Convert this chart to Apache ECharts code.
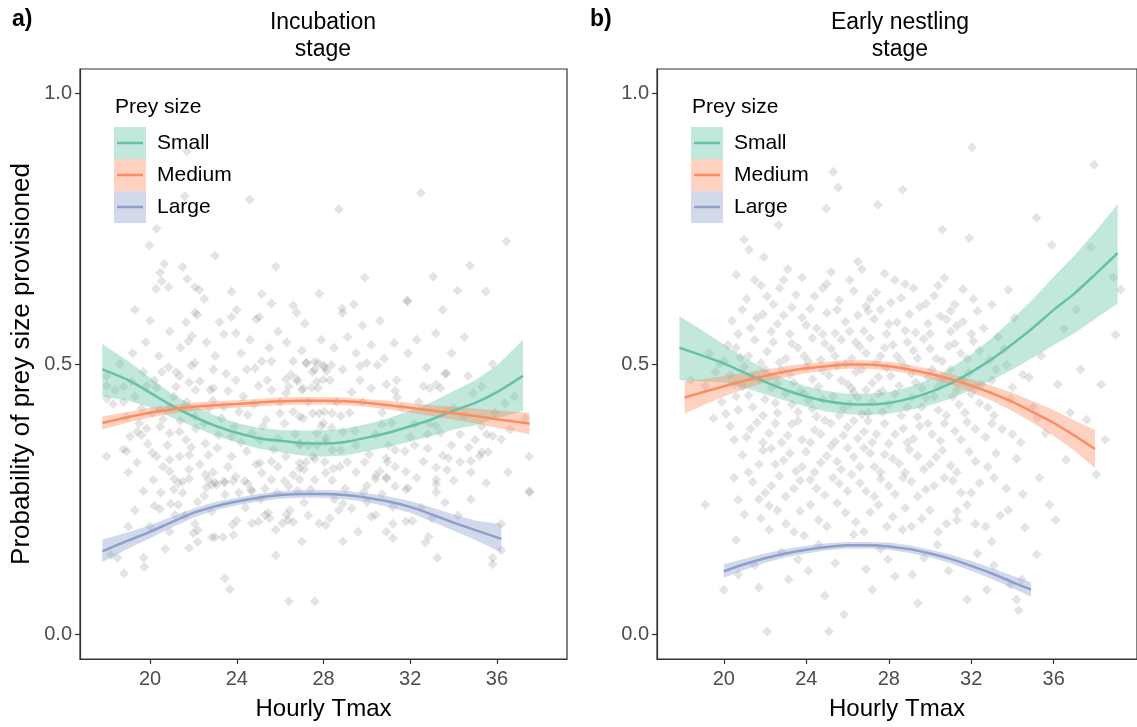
<!DOCTYPE html>
<html><head><meta charset="utf-8">
<script src="https://cdn.jsdelivr.net/npm/echarts@6/dist/echarts.min.js"></script>
<style>html,body{margin:0;padding:0;background:#fff}#c{width:1137px;height:727px}</style>
</head><body><div id="c"></div>
<script>
// ---------- data ----------
const groups = ['Small', 'Medium', 'Large'];
const xTicks = [20, 24, 28, 32, 36];
const yTicks = [0, 0.5, 1.0];

// Panel a) Incubation stage
const aSmallX   = [17.8, 19, 20, 21, 22, 23, 24, 25, 26, 27, 28, 29, 30, 31, 32, 33, 34, 35, 36, 37.2];
const aSmallFit = [0.490, 0.470, 0.447, 0.423, 0.403, 0.386, 0.373, 0.363, 0.358, 0.354, 0.353, 0.356, 0.364, 0.373, 0.385, 0.398, 0.414, 0.428, 0.448, 0.478];
const aSmallLo  = [0.440, 0.432, 0.420, 0.401, 0.384, 0.368, 0.355, 0.344, 0.337, 0.331, 0.329, 0.331, 0.339, 0.347, 0.357, 0.367, 0.379, 0.387, 0.400, 0.413];
const aSmallHi  = [0.537, 0.505, 0.475, 0.445, 0.423, 0.405, 0.391, 0.382, 0.378, 0.377, 0.377, 0.381, 0.389, 0.400, 0.414, 0.430, 0.450, 0.470, 0.497, 0.545];

const aMedX   = [17.8, 19, 20, 21, 22, 23, 24, 25, 26, 27, 28, 29, 30, 31, 32, 33, 34, 35, 36, 37.5];
const aMedFit = [0.391, 0.402, 0.410, 0.416, 0.421, 0.424, 0.426, 0.429, 0.431, 0.432, 0.432, 0.431, 0.428, 0.424, 0.419, 0.414, 0.409, 0.404, 0.398, 0.390];
const aMedLo  = [0.379, 0.392, 0.401, 0.408, 0.413, 0.417, 0.419, 0.422, 0.424, 0.425, 0.425, 0.424, 0.421, 0.416, 0.410, 0.404, 0.397, 0.390, 0.382, 0.370];
const aMedHi  = [0.403, 0.412, 0.419, 0.424, 0.429, 0.431, 0.433, 0.436, 0.438, 0.439, 0.439, 0.438, 0.435, 0.432, 0.428, 0.424, 0.421, 0.418, 0.414, 0.410];

const aLargeX   = [17.8, 19, 20, 21, 22, 23, 24, 25, 26, 27, 28, 29, 30, 31, 32, 33, 34, 35, 36.2];
const aLargeFit = [0.154, 0.174, 0.190, 0.208, 0.225, 0.237, 0.246, 0.253, 0.258, 0.260, 0.260, 0.258, 0.253, 0.246, 0.236, 0.222, 0.207, 0.193, 0.177];
const aLargeLo  = [0.134, 0.159, 0.178, 0.198, 0.216, 0.230, 0.239, 0.246, 0.251, 0.253, 0.253, 0.250, 0.245, 0.236, 0.225, 0.209, 0.192, 0.175, 0.152];
const aLargeHi  = [0.176, 0.189, 0.202, 0.218, 0.233, 0.245, 0.253, 0.260, 0.265, 0.267, 0.267, 0.266, 0.261, 0.255, 0.247, 0.235, 0.222, 0.211, 0.204];

// Panel b) Early nestling stage
const bSmallX   = [17.85, 19, 20, 21, 22, 23, 24, 25, 26, 27, 28, 29, 30, 31, 32, 33, 34, 35, 36, 37, 38, 39.1];
const bSmallFit = [0.530, 0.515, 0.501, 0.484, 0.467, 0.452, 0.440, 0.431, 0.426, 0.425, 0.428, 0.436, 0.448, 0.464, 0.485, 0.509, 0.537, 0.567, 0.600, 0.630, 0.665, 0.705];
const bSmallLo  = [0.470, 0.468, 0.466, 0.456, 0.444, 0.432, 0.421, 0.412, 0.407, 0.406, 0.408, 0.415, 0.424, 0.436, 0.452, 0.470, 0.490, 0.512, 0.535, 0.557, 0.583, 0.612];
const bSmallHi  = [0.588, 0.561, 0.536, 0.512, 0.490, 0.472, 0.459, 0.450, 0.445, 0.445, 0.448, 0.458, 0.472, 0.492, 0.518, 0.548, 0.583, 0.620, 0.661, 0.700, 0.744, 0.795];

const bMedX   = [18.1, 19, 20, 21, 22, 23, 24, 25, 26, 27, 28, 29, 30, 31, 32, 33, 34, 35, 36, 37, 38];
const bMedFit = [0.438, 0.448, 0.459, 0.469, 0.478, 0.486, 0.492, 0.496, 0.499, 0.499, 0.496, 0.490, 0.482, 0.472, 0.460, 0.446, 0.430, 0.411, 0.391, 0.368, 0.343];
const bMedLo  = [0.408, 0.424, 0.440, 0.454, 0.466, 0.476, 0.483, 0.488, 0.491, 0.491, 0.488, 0.482, 0.473, 0.462, 0.448, 0.432, 0.413, 0.391, 0.367, 0.340, 0.308];
const bMedHi  = [0.468, 0.472, 0.478, 0.484, 0.490, 0.496, 0.501, 0.504, 0.507, 0.507, 0.504, 0.498, 0.491, 0.482, 0.472, 0.460, 0.447, 0.431, 0.415, 0.396, 0.378];

const bLargeX   = [20, 21, 22, 23, 24, 25, 26, 27, 28, 29, 30, 31, 32, 33, 34, 34.9];
const bLargeFit = [0.117, 0.130, 0.141, 0.150, 0.157, 0.162, 0.165, 0.165, 0.163, 0.158, 0.150, 0.140, 0.127, 0.113, 0.097, 0.083];
const bLargeLo  = [0.105, 0.120, 0.133, 0.143, 0.150, 0.156, 0.159, 0.159, 0.157, 0.151, 0.143, 0.132, 0.118, 0.103, 0.086, 0.070];
const bLargeHi  = [0.130, 0.140, 0.150, 0.158, 0.164, 0.169, 0.171, 0.171, 0.170, 0.165, 0.157, 0.148, 0.136, 0.123, 0.109, 0.097];

// observed provisioning proportions (x = hourly Tmax, y = proportion)
const aPoints = [
[21.7,0.893],[21.6,0.81],[24.6,0.804],[19.97,0.719],[20.66,0.685],[20.46,0.669],[21.5,0.679],[20.54,0.653],[21.72,0.657],[20.28,0.639],[20.85,0.642],[22.07,0.642],[22.27,0.637],[23.76,0.634],[25.15,0.629],[26.6,0.608],
[32.49,0.816],[28.71,0.786],[36.44,0.727],[34.75,0.682],[33.06,0.661],[34.18,0.636],[35.48,0.634],[31.86,0.617],[28.86,0.602],
[22.07,0.595],[22.17,0.591],[21.66,0.577],[23.2,0.577],[23.76,0.587],[24.9,0.583],[25.04,0.587],[27.14,0.575],[26.76,0.595],[21.92,0.552],[21.77,0.542],[23.96,0.557],
[25.15,0.505],[25.6,0.505],[26.6,0.505],[27.2,0.502],[27.6,0.504],[28.0,0.497],[22.07,0.502],[21.9,0.497],[20.85,0.494],[20.54,0.485],[19.69,0.485],[21.2,0.485],[21.36,0.478],[22.92,0.49],[23.5,0.482],[24.46,0.49],[24.85,0.492],[26.27,0.472],[26.76,0.472],[26.8,0.468],[27.5,0.485],
[18.0,0.478],[18.0,0.46],[18.77,0.458],[19.15,0.468],[19.85,0.46],[20.3,0.456],[21.2,0.458],[21.8,0.466],[22.1,0.452],[22.77,0.452],[22.92,0.455],[23.96,0.47],[25.0,0.46],[25.6,0.452],[26.4,0.458],[26.27,0.446],[27.0,0.452],[27.75,0.455],
[18.0,0.436],[18.3,0.426],[18.77,0.43],[19.6,0.418],[20.1,0.409],[20.46,0.415],[20.93,0.421],[21.5,0.418],[22.07,0.403],[22.7,0.418],[23.4,0.421],[24.1,0.412],[24.5,0.406],[25.35,0.397],[25.99,0.409],[26.6,0.412],[26.9,0.403],[27.5,0.409],[28.05,0.412],
[19.08,0.366],[19.4,0.375],[19.6,0.369],[19.85,0.381],[20.46,0.384],[20.9,0.372],[21.36,0.375],[21.66,0.36],[22.1,0.381],[22.55,0.353],[23.15,0.369],[23.76,0.366],[24.7,0.372],[25.07,0.36],[25.9,0.363],[26.9,0.353],[27.7,0.372],[28.1,0.363],
[18.0,0.329],[18.77,0.342],[18.92,0.339],[20.1,0.336],[20.3,0.329],[20.9,0.323],[21.36,0.329],[21.8,0.332],[22.7,0.332],[23.76,0.329],[24.46,0.339],[25.07,0.317],[25.6,0.32],[26.27,0.329],[26.9,0.317],[27.5,0.329],
[19.69,0.265],[20.15,0.286],[20.9,0.302],[21.5,0.283],[21.8,0.305],[22.55,0.296],[22.85,0.277],[23.07,0.277],[23.4,0.283],[23.96,0.292],[24.7,0.265],[25.15,0.299],[25.6,0.286],[26.4,0.274],[27.1,0.305],[27.6,0.286],[28.1,0.299],
[28.88,0.594],[29.8,0.571],[33.18,0.557],[31.26,0.539],[31.87,0.616],
[27.22,0.502],[27.76,0.502],[27.6,0.49],[28.06,0.493],[28.14,0.487],[28.37,0.498],[28.88,0.49],[29.68,0.496],[29.99,0.502],[30.49,0.498],[29.68,0.47],[31.37,0.47],[32.75,0.494],[33.6,0.482],[33.68,0.483],[34.67,0.478],[27.68,0.467],[27.99,0.471],[27.06,0.455],[27.45,0.456],[29.3,0.448],[30.9,0.462],[31.3,0.45],[31.4,0.438],[32.6,0.459],[32.9,0.455],[33.2,0.462],[33.4,0.455],[34.9,0.446],[35.3,0.458],[36.37,0.427],[33.7,0.413],[34.0,0.419],
[27.06,0.4],[27.8,0.409],[28.4,0.409],[28.8,0.404],[27.99,0.391],[28.37,0.382],[29.45,0.376],[30.68,0.388],[31.14,0.391],[32.2,0.389],[32.8,0.37],[33.2,0.385],[33.4,0.373],[34.3,0.37],[35.29,0.385],[35.53,0.37],[35.8,0.367],[36.2,0.361],[36.6,0.379],[37.3,0.4],[37.48,0.329],
[26.9,0.35],[27.3,0.35],[27.7,0.35],[28.1,0.356],[28.4,0.341],[28.8,0.341],[29.1,0.319],[30.1,0.333],[30.9,0.326],[30.95,0.319],[31.3,0.341],[31.76,0.339],[32.2,0.35],[32.8,0.344],[33.5,0.331],[33.77,0.326],[34.3,0.319],[34.8,0.321],[35.3,0.337],[35.2,0.33],[35.6,0.337],[34.7,0.346],[26.9,0.307],[27.2,0.319],[27.6,0.325],[28.06,0.319],[28.45,0.307],[28.76,0.31],[29.9,0.319],[30.6,0.302],[30.9,0.291],[31.3,0.31],[31.8,0.301],[33.2,0.309],[33.7,0.304],[30.4,0.294],[33.2,0.286],[37.5,0.263],
[20.5,0.262],[21.1,0.288],[21.3,0.28],[21.5,0.262],[21.8,0.288],[20.2,0.238],[20.45,0.232],[20.95,0.242],[21.3,0.24],[22.2,0.245],[22.7,0.286],[23.0,0.281],[22.6,0.272],[22.5,0.256],[22.85,0.228],[23.46,0.281],[23.46,0.259],[23.84,0.284],[24.36,0.284],[24.5,0.279],[24.66,0.268],[21.15,0.221],[22.07,0.205],[22.0,0.188],[22.2,0.193],[22.2,0.171],[21.8,0.16],[20.7,0.158],[19.7,0.142],[19.74,0.125],[18.8,0.113],[18.2,0.147],[18.5,0.142],[22.85,0.18],[23.0,0.18],[23.37,0.18],[23.84,0.184],[23.8,0.203],[24.0,0.211],[23.45,0.104],[23.68,0.084],[24.7,0.206],[25.0,0.209],[25.3,0.221],[25.5,0.215],[25.45,0.225],[25.8,0.194],[25.8,0.146],[26.1,0.206],[26.35,0.212],[26.6,0.208],[26.3,0.221],[26.45,0.23],[25.85,0.262],[26.2,0.284],[26.8,0.266],[26.9,0.287],[27.1,0.244],[27.0,0.172],[26.4,0.0615],[27.6,0.0615],[27.8,0.206],[28.1,0.202],[28.3,0.215],[28.7,0.23],[28.9,0.242],[28.9,0.172],[29.3,0.233],[29.85,0.263],[30.4,0.288],[30.2,0.218],[30.4,0.221],[30.9,0.19],[31.2,0.178],[31.2,0.205],[31.3,0.274],[31.8,0.268],[31.9,0.271],[30.9,0.288],[31.2,0.236],[31.8,0.209],[32.1,0.21],[32.7,0.17],[32.85,0.181],[33.2,0.278],[33.2,0.263],[33.6,0.244],[33.25,0.142],[36.2,0.205],[36.2,0.156],[35.8,0.142],[35.8,0.13],[37.5,0.265],
[18.4,0.452],[18.9,0.401],[19.3,0.44],[19.5,0.39],[19.9,0.352],[20.2,0.47],[20.6,0.398],[20.8,0.35],[21.1,0.44],[21.4,0.395],[21.7,0.43],[21.9,0.346],[22.3,0.468],[22.5,0.39],[22.9,0.432],[23.1,0.345],[23.3,0.4],[23.6,0.45],[23.9,0.385],[24.2,0.355],[24.3,0.44],[24.8,0.425],[25.2,0.385],[25.4,0.47],[25.7,0.342],[26.0,0.43],[26.2,0.39],[26.5,0.48],[26.7,0.37],[27.3,0.43],[27.9,0.385],[28.3,0.47],[28.6,0.43],[28.9,0.375],[29.2,0.41],[29.5,0.35],[29.8,0.43],[30.2,0.455],[30.4,0.37],[30.7,0.41],[31.0,0.35],[31.6,0.42],[32.0,0.365],[32.4,0.43],[32.9,0.39],[33.9,0.35],[34.5,0.405],[35.0,0.36],[35.9,0.41],[36.8,0.44],
[19.0,0.3],[19.4,0.318],[20.6,0.31],[21.1,0.268],[22.3,0.315],[22.9,0.3],[23.6,0.31],[24.1,0.262],[24.9,0.315],[25.3,0.27],[25.9,0.31],[26.6,0.295],[27.4,0.268],[28.4,0.285],[29.0,0.27],[29.5,0.3],[30.0,0.275],[30.7,0.26],[32.3,0.29],[32.6,0.32],[34.0,0.285],[34.8,0.3],[35.5,0.28],[36.5,0.3],
[18.6,0.5],[19.2,0.52],[19.8,0.54],[20.4,0.515],[20.9,0.56],[21.4,0.53],[22.6,0.54],[23.0,0.515],[23.4,0.555],[24.2,0.52],[24.6,0.545],[25.5,0.53],[25.9,0.56],[26.3,0.54],[27.0,0.525],[27.9,0.545],[28.5,0.53],[29.1,0.55],[29.5,0.52],[30.2,0.535],[30.8,0.51],[31.9,0.52],[32.3,0.545],[33.9,0.52],[34.5,0.55],[35.8,0.5],
[19.3,0.6],[20.0,0.58],[22.5,0.62],[24.0,0.6],[25.6,0.612],[27.8,0.63],[29.4,0.61],[30.6,0.58],[33.5,0.6],[20.3,0.75],[23.0,0.7],[25.8,0.68],[29.9,0.66],
[19.0,0.2],[19.3,0.23],[20.0,0.2],[20.9,0.19],[21.6,0.22],[24.4,0.235],[25.1,0.25],[27.3,0.22],[28.5,0.25],[29.6,0.19],[30.0,0.245],[32.5,0.235],[33.0,0.215],[34.2,0.22],[34.8,0.25]
];

const bPoints = [
[32.04,0.9],[25.31,0.855],[37.96,0.868],[28.67,0.822],[25.55,0.826],[27.47,0.794],[24.97,0.787],[22.66,0.757],[30.6,0.748],[35.17,0.77],[21.22,0.711],[21.94,0.697],[20.98,0.73],[26.5,0.689],[35.9,0.72],[31.9,0.733],[33.8,0.637],[37.1,0.6],[39.0,0.554],[39.26,0.637],[38.3,0.462],[38.5,0.36],[38.06,0.296],[37.6,0.397],[36.6,0.323],[36.1,0.212],[35.17,0.148],[34.2,0.065],[34.45,0.102],[32.76,0.083],[31.8,0.065],[30.36,0.166],[29.15,0.111],[27.96,0.139],[28.67,0.194],[31.3,0.212],[27.2,0.083],[25.83,0.037],[25.1,0.006],[22.1,0.006],[23.14,0.102],[21.7,0.087],[20.7,0.111],[23.6,0.139],[24.6,0.166],[26.3,0.185],[22.2,0.194],[20.7,0.249],[20.0,0.083],[19.1,0.24],
[21.5,0.128],[22.8,0.152],[24.1,0.118],[25.4,0.132],[26.9,0.121],[27.6,0.158],[28.3,0.108],[29.7,0.142],[30.9,0.118],[32.3,0.15],[33.1,0.128],[33.9,0.092],[24.9,0.072],[29.4,0.058],[34.3,0.045],[33.0,0.172],[20.6,0.175],[23.9,0.183],
[37.8,0.715],[38.9,0.66],[36.5,0.565],[37.3,0.49],
[21.1,0.62],[21.8,0.645],[22.4,0.61],[22.9,0.655],[23.5,0.628],[24.2,0.602],[24.8,0.64],[25.6,0.618],[26.1,0.655],[26.9,0.607],[27.4,0.632],[28.1,0.613],[28.8,0.648],[29.5,0.605],[30.2,0.626],[31.2,0.61],[32.3,0.598],[20.6,0.665],[23.1,0.675],[25.2,0.67],[27.8,0.667],[30.7,0.659],
[20.4,0.58],[21.3,0.566],[21.9,0.592],[22.6,0.574],[23.2,0.556],[23.8,0.586],[24.5,0.566],[25.0,0.594],[25.4,0.557],[25.9,0.578],[26.5,0.59],[26.8,0.561],[27.3,0.583],[27.9,0.556],[28.4,0.577],[29.0,0.592],[29.3,0.558],[29.9,0.575],[30.5,0.588],[31.0,0.56],[31.6,0.578],[32.6,0.566],[33.3,0.55],[34.1,0.585],
[19.3,0.52],[20.2,0.535],[20.8,0.512],[21.5,0.545],[22.1,0.523],[22.7,0.503],[23.3,0.538],[23.9,0.515],[24.3,0.548],[24.7,0.508],[25.2,0.528],[25.7,0.545],[26.2,0.51],[26.6,0.532],[27.1,0.548],[27.6,0.515],[28.2,0.535],[28.6,0.505],[29.2,0.525],[29.7,0.546],[30.3,0.51],[30.9,0.533],[31.5,0.52],[32.1,0.542],[32.9,0.508],[33.6,0.528],[35.4,0.515],
[18.4,0.47],[19.6,0.485],[20.5,0.462],[21.0,0.495],[21.7,0.472],[22.3,0.455],[22.8,0.488],[23.4,0.466],[24.0,0.494],[24.6,0.458],[25.1,0.479],[25.5,0.497],[26.0,0.463],[26.4,0.485],[26.9,0.452],[27.5,0.476],[27.9,0.493],[28.5,0.46],[29.1,0.482],[29.6,0.455],[30.1,0.49],[30.6,0.468],[31.3,0.452],[31.9,0.484],[32.5,0.462],[33.2,0.49],[34.0,0.457],[34.8,0.475],[36.2,0.462],
[19.9,0.43],[20.7,0.415],[21.2,0.442],[21.9,0.405],[22.5,0.428],[23.0,0.446],[23.6,0.412],[24.1,0.432],[24.5,0.403],[25.3,0.44],[25.8,0.418],[26.3,0.448],[26.7,0.407],[27.2,0.43],[27.7,0.412],[28.3,0.445],[28.9,0.42],[29.4,0.402],[29.8,0.437],[30.4,0.415],[31.1,0.44],[31.7,0.41],[32.4,0.428],[33.1,0.405],[33.9,0.436],[35.0,0.42],[36.8,0.41],
[20.3,0.385],[21.1,0.365],[21.6,0.392],[22.2,0.372],[22.8,0.355],[23.3,0.389],[23.8,0.36],[24.4,0.378],[24.9,0.396],[25.4,0.357],[26.0,0.383],[26.5,0.363],[27.0,0.395],[27.4,0.37],[28.0,0.353],[28.7,0.381],[29.2,0.362],[29.9,0.39],[30.5,0.358],[31.2,0.376],[31.8,0.393],[32.7,0.365],[33.5,0.38],[34.4,0.355],[35.6,0.372],
[20.9,0.332],[21.7,0.315],[22.3,0.344],[22.9,0.322],[23.5,0.302],[24.0,0.338],[24.7,0.318],[25.2,0.348],[25.7,0.305],[26.3,0.328],[26.8,0.345],[27.3,0.31],[27.8,0.333],[28.5,0.316],[29.0,0.342],[29.7,0.305],[30.3,0.328],[31.0,0.312],[31.9,0.338],[32.8,0.31],[34.2,0.325],
[21.4,0.282],[22.0,0.262],[22.7,0.293],[23.4,0.27],[24.2,0.286],[24.9,0.258],[25.6,0.279],[26.2,0.296],[26.9,0.265],[27.6,0.288],[28.3,0.26],[29.1,0.283],[29.8,0.268],[30.7,0.29],[31.5,0.262],[32.4,0.28],[33.7,0.27],[35.3,0.29],
[21.0,0.222],[22.2,0.238],[23.0,0.205],[23.7,0.228],[24.6,0.212],[25.5,0.243],[26.4,0.208],[27.1,0.226],[27.9,0.2],[28.8,0.234],[29.6,0.214],[30.4,0.19],[31.3,0.228],[32.2,0.205],[33.4,0.22],[34.6,0.198],
[20.9,0.6],[21.5,0.655],[22.1,0.625],[22.7,0.64],[23.3,0.605],[23.8,0.66],[24.4,0.625],[25.0,0.648],[25.5,0.6],[26.3,0.635],[26.7,0.675],[27.1,0.62],[27.6,0.6],[28.3,0.655],[28.6,0.622],[29.2,0.64],[29.8,0.612],[30.4,0.645],[31.0,0.598],[31.6,0.638],[32.1,0.62],[33.0,0.61],[22.3,0.56],[22.9,0.59],[24.0,0.572],[24.8,0.555],[26.1,0.56],[27.0,0.598],[28.0,0.574],[28.8,0.562],[30.0,0.556],[30.8,0.582],[31.3,0.57],[32.0,0.556],[20.7,0.555],[21.6,0.585],
[20.0,0.505],[20.6,0.53],[21.2,0.515],[21.8,0.502],[22.4,0.54],[23.0,0.51],[23.6,0.53],[24.1,0.505],[24.9,0.538],[25.4,0.515],[25.9,0.5],[26.4,0.54],[26.9,0.52],[27.4,0.502],[27.8,0.53],[28.4,0.515],[28.9,0.54],[29.4,0.51],[30.0,0.528],[30.6,0.505],[31.2,0.538],[31.8,0.51],[32.4,0.525],[20.3,0.48],[20.9,0.458],[21.4,0.475],[22.0,0.49],[22.6,0.465],[23.2,0.48],[23.7,0.45],[24.3,0.472],[24.8,0.488],[25.7,0.47],[26.2,0.455],[26.7,0.49],[27.2,0.465],[27.7,0.45],[28.1,0.478],[28.8,0.495],[29.3,0.466],[29.9,0.475],[30.4,0.458],[31.0,0.49],[31.6,0.47],[32.2,0.455],[33.0,0.47],[33.7,0.498],[34.5,0.48],[19.1,0.46],[19.8,0.5],
[20.1,0.408],[20.6,0.44],[21.4,0.42],[22.0,0.435],[22.6,0.41],[23.3,0.425],[23.9,0.445],[24.3,0.418],[24.8,0.435],[25.6,0.405],[26.1,0.425],[26.5,0.438],[27.0,0.41],[27.5,0.445],[28.0,0.425],[28.6,0.405],[29.1,0.438],[29.6,0.42],[30.2,0.44],[30.8,0.405],[31.4,0.425],[32.0,0.445],[32.8,0.42],[20.5,0.36],[21.3,0.38],[21.9,0.355],[22.5,0.39],[23.1,0.368],[23.6,0.395],[24.2,0.355],[24.7,0.37],[25.2,0.39],[25.8,0.368],[26.3,0.395],[26.8,0.375],[27.2,0.355],[27.8,0.39],[28.3,0.37],[28.9,0.355],[29.5,0.385],[30.1,0.37],[30.7,0.39],[31.5,0.36],[32.2,0.38],[33.0,0.39],[34.0,0.37],[19.5,0.4],[35.2,0.4],
[21.2,0.3],[21.9,0.34],[22.5,0.315],[23.2,0.335],[23.8,0.31],[24.4,0.3],[25.0,0.33],[25.5,0.32],[26.0,0.345],[26.6,0.31],[27.1,0.335],[27.6,0.3],[28.2,0.325],[28.8,0.3],[29.4,0.33],[30.0,0.315],[30.6,0.34],[31.3,0.3],[32.2,0.32],[33.2,0.335],[22.3,0.275],[23.0,0.255],[23.7,0.285],[24.5,0.27],[25.3,0.29],[26.0,0.265],[26.6,0.28],[27.3,0.255],[28.0,0.275],[28.7,0.29],[29.4,0.255],[30.2,0.275],[31.1,0.285],[32.0,0.262],[33.1,0.29],[34.5,0.26],[20.5,0.29],[21.7,0.25],
[21.8,0.215],[22.6,0.23],[23.4,0.19],[24.2,0.24],[25.0,0.2],[25.9,0.225],[26.8,0.19],[27.5,0.24],[28.2,0.218],[29.1,0.2],[30.0,0.23],[30.8,0.205],[31.8,0.24],[32.7,0.2],[33.8,0.23],[35.8,0.24]
];

// ---------- style ----------
const lineColors = ['#66C2A5', '#FC8D62', '#8DA0CB'];
const FONT = '"Liberation Sans", Arial, sans-serif';

function band(idx, xs, lo, hi, color) {
  const data = xs.map((x, i) => [x, lo[i], hi[i]]);
  return {
    type: 'custom', xAxisIndex: idx, yAxisIndex: idx, data: data, z: 3, silent: true,
    encode: { x: 0, y: [1, 2] },
    renderItem: function (params, api) {
      if (params.dataIndex !== 0) return null;
      const top = data.map(d => api.coord([d[0], d[2]]));
      const bot = data.map(d => api.coord([d[0], d[1]])).reverse();
      return { type: 'polygon', shape: { points: top.concat(bot) },
               style: { fill: color, opacity: 0.4 } };
    }
  };
}
function fitLine(idx, xs, fit, color) {
  return {
    type: 'line', xAxisIndex: idx, yAxisIndex: idx, z: 4, silent: true,
    data: xs.map((x, i) => [x, fit[i]]), smooth: 0.25, showSymbol: false,
    lineStyle: { color: color, width: 2.5 }
  };
}
function pts(idx, data) {
  return {
    type: 'scatter', xAxisIndex: idx, yAxisIndex: idx, z: 2, silent: true,
    data: data, symbol: 'diamond', symbolSize: 10,
    itemStyle: { color: 'rgba(70,70,70,0.18)' }
  };
}
function xAxisDef(idx, min, max) {
  return {
    gridIndex: idx, type: 'value', min: min, max: max,
    splitLine: { show: false },
    axisLine: { show: true, onZero: false, lineStyle: { color: '#333', width: 1.2 } },
    axisTick: { show: true, length: 5, customValues: xTicks, lineStyle: { color: '#333', width: 1.2 } },
    axisLabel: { customValues: xTicks, fontSize: 20, color: '#4d4d4d', margin: 10, fontFamily: FONT },
    name: 'Hourly Tmax', nameLocation: 'middle', nameGap: 38,
    nameTextStyle: { fontSize: 24, color: '#000', fontFamily: FONT }
  };
}
function yAxisDef(idx, withName) {
  return {
    gridIndex: idx, type: 'value', min: -0.045, max: 1.045,
    splitLine: { show: false },
    axisLine: { show: true, onZero: false, lineStyle: { color: '#333', width: 1.2 } },
    axisTick: { show: true, length: 5, customValues: yTicks, lineStyle: { color: '#333', width: 1.2 } },
    axisLabel: { customValues: yTicks, fontSize: 20, color: '#4d4d4d', margin: 8, fontFamily: FONT,
                 formatter: v => Number(v).toFixed(1) },
    name: withName ? 'Probability of prey size provisioned' : '',
    nameLocation: 'middle', nameGap: 45, nameRotate: 90,
    nameTextStyle: { fontSize: 26, color: '#000', fontFamily: FONT }
  };
}
function legend(x0) {
  const els = [{ type: 'text', left: x0 + 1, top: 97,
    style: { text: 'Prey size', font: '21px ' + FONT, fill: '#000' } }];
  groups.forEach((g, i) => {
    const y = 127 + i * 32;
    els.push({ type: 'rect', shape: { x: x0, y: y, width: 32, height: 32 },
      style: { fill: lineColors[i], opacity: 0.4 } });
    els.push({ type: 'line', shape: { x1: x0 + 3, y1: y + 16, x2: x0 + 29, y2: y + 16 },
      style: { stroke: lineColors[i], lineWidth: 2.5 } });
    els.push({ type: 'text', left: x0 + 43, top: y + 5.5,
      style: { text: g, font: '21px ' + FONT, fill: '#000' } });
  });
  return els;
}

const chart = echarts.init(document.getElementById('c'), null, { renderer: 'canvas' });
chart.setOption({
  animation: false,
  backgroundColor: '#fff',
  grid: [
    { left: 80, top: 69, width: 487, height: 590, show: true, borderColor: '#333', borderWidth: 1.2, backgroundColor: 'transparent' },
    { left: 657, top: 69, width: 484, height: 590, show: true, borderColor: '#333', borderWidth: 1.2, backgroundColor: 'transparent' }
  ],
  xAxis: [xAxisDef(0, 16.77, 39.23), xAxisDef(1, 16.76, 40.04)],
  yAxis: [yAxisDef(0, true), yAxisDef(1, false)],
  series: [
    pts(0, aPoints), pts(1, bPoints),
    band(0, aSmallX, aSmallLo, aSmallHi, lineColors[0]),
    band(0, aMedX, aMedLo, aMedHi, lineColors[1]),
    band(0, aLargeX, aLargeLo, aLargeHi, lineColors[2]),
    band(1, bSmallX, bSmallLo, bSmallHi, lineColors[0]),
    band(1, bMedX, bMedLo, bMedHi, lineColors[1]),
    band(1, bLargeX, bLargeLo, bLargeHi, lineColors[2]),
    fitLine(0, aSmallX, aSmallFit, lineColors[0]),
    fitLine(0, aMedX, aMedFit, lineColors[1]),
    fitLine(0, aLargeX, aLargeFit, lineColors[2]),
    fitLine(1, bSmallX, bSmallFit, lineColors[0]),
    fitLine(1, bMedX, bMedFit, lineColors[1]),
    fitLine(1, bLargeX, bLargeFit, lineColors[2])
  ],
  graphic: [
    { type: 'text', left: 12, top: 8, style: { text: 'a)', font: 'bold 23px ' + FONT, fill: '#000' } },
    { type: 'text', left: 590, top: 8, style: { text: 'b)', font: 'bold 23px ' + FONT, fill: '#000' } },
    { type: 'text', x: 323, y: 9, style: { text: 'Incubation\nstage', font: '23px ' + FONT, fill: '#000', textAlign: 'center', lineHeight: 27 } },
    { type: 'text', x: 900, y: 9, style: { text: 'Early nestling\nstage', font: '23px ' + FONT, fill: '#000', textAlign: 'center', lineHeight: 27 } }
  ].concat(legend(114), legend(691))
});
</script>
</body></html>
